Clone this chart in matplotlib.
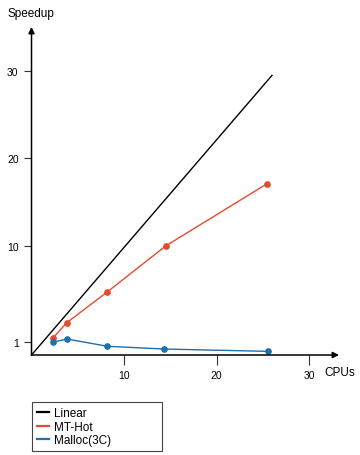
import matplotlib
matplotlib.use('Agg')
import matplotlib.pyplot as plt
import numpy as np

plt.rcParams['font.family'] = ['Liberation Sans', 'DejaVu Sans']

# Data (CPUs vs speedup)
linear_x = [0, 26.0]
linear_y = [0, 29.5]

mthot_x = [2.3, 3.8, 8.2, 14.5, 25.5]
mthot_y = [1.35, 2.8, 5.7, 10.0, 17.1]

malloc_x = [2.3, 3.85, 8.2, 14.3, 25.6]
malloc_y = [0.98, 1.28, 0.67, 0.46, 0.28]

xticks = [10, 20, 30]
yticks = [1, 10, 20, 30]

# The speedup axis in the original is not evenly spaced: 0..1 is stretched
knots_data = [-10, 0, 1, 10, 20, 30, 40]
knots_disp = [-130, 0, 13, 109, 197, 284, 371]


def fwd(v):
    return np.interp(v, knots_data, knots_disp)


def inv(v):
    return np.interp(v, knots_disp, knots_data)


W, H = 360, 456
fig = plt.figure(figsize=(W / 100, H / 100), dpi=100)

x0, y0 = 31.5, 356      # origin in pixels
x1, y1 = 339, 28        # arrow tips
ax = fig.add_axes([x0 / W, (H - y0) / H, (x1 - x0) / W, (y0 - y1) / H])
ax.patch.set_alpha(0)

red = '#E64A2E'
blue = '#1D70AA'

ax.plot(linear_x, linear_y, color='black', lw=1.0, label='Linear', clip_on=False)
ax.plot(mthot_x, mthot_y, color=red, lw=1.0, marker='o', ms=3.8, label='MT-Hot', clip_on=False)
ax.plot(malloc_x, malloc_y, color=blue, lw=1.0, marker='o', ms=3.8, label='Malloc(3C)', clip_on=False)

ax.set_yscale('function', functions=(fwd, inv))
ax.set_xlim(0, (x1 - x0) / 9.25)
ax.set_ylim(0, inv(y0 - y1))

ax.set_xticks(xticks)
ax.set_yticks(yticks)
ax.set_xticklabels([str(t) for t in xticks])
ax.set_yticklabels([str(t) for t in yticks])
ax.yaxis.set_minor_locator(matplotlib.ticker.NullLocator())
ax.xaxis.set_minor_locator(matplotlib.ticker.NullLocator())
ax.tick_params(axis='y', direction='out', length=5, width=0.8, pad=4.3,
               labelsize=7.5, color='#333333')
ax.tick_params(axis='x', direction='out', length=7, width=0.8, pad=3.5,
               labelsize=7.5, color='#333333')

for s in ax.spines.values():
    s.set_visible(False)

arrow = dict(arrowstyle='-|>', lw=1.1, color='black', mutation_scale=9,
             shrinkA=0, shrinkB=0)
ax.annotate('', xy=(0, 1), xytext=(0, 0), xycoords='axes fraction', arrowprops=arrow)
ax.annotate('', xy=(1, 0), xytext=(0, 0), xycoords='axes fraction', arrowprops=arrow)

fig.text(7 / W, 1 - 14 / H, 'Speedup', fontsize=8.5, ha='left', va='center')
fig.text(324 / W, 1 - 372.7 / H, 'CPUs', fontsize=8.5, ha='left', va='center')

leg = fig.legend(loc='upper left', bbox_to_anchor=(32 / W, 1 - 403 / H, 130 / W, 0),
                 mode='expand', borderaxespad=0, fontsize=8.5, handlelength=1.0,
                 handletextpad=0.4, labelspacing=0.12, borderpad=0.45,
                 fancybox=False, framealpha=1, edgecolor='#444444')
leg.get_frame().set_linewidth(0.8)
for line in leg.get_lines():
    line.set_linewidth(1.6)
    line.set_marker('')

fig.savefig('out.png', dpi=100)
